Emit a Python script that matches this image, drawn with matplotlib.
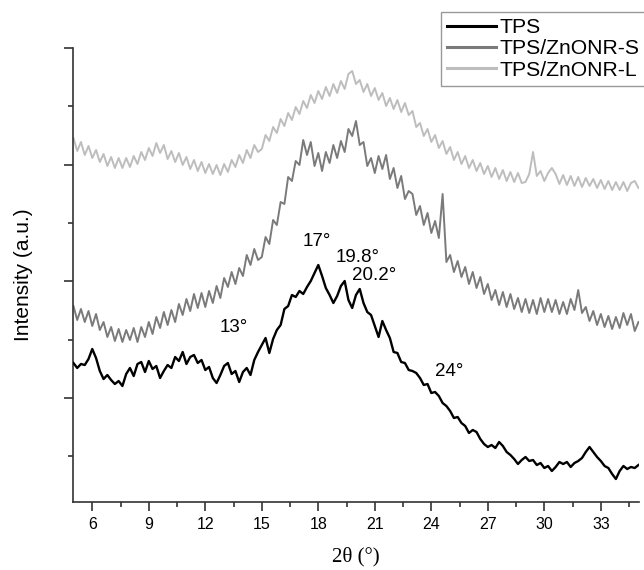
import numpy as np
import matplotlib
matplotlib.use("Agg")
import matplotlib.pyplot as plt

# 2theta scan from 5 to 35 degrees, 0.2 degree step
two_theta_start, two_theta_stop = 5.0, 35.0

tps = [139, 134, 138, 137, 143, 153, 144, 131, 123, 127,
       122, 118, 121, 116, 128, 134, 126, 138, 140, 130,
       141, 133, 136, 124, 131, 137, 134, 145, 141, 150,
       138, 145, 147, 139, 142, 132, 135, 124, 119, 127,
       136, 139, 128, 131, 120, 130, 134, 127, 142, 150,
       157, 164, 149, 163, 172, 177, 193, 196, 207, 205,
       211, 208, 215, 221, 229, 237, 226, 214, 207, 199,
       206, 216, 221, 202, 194, 207, 213, 199, 190, 187,
       176, 165, 181, 172, 164, 150, 149, 140, 139, 132,
       131, 129, 124, 117, 118, 109, 110, 106, 99, 96,
       91, 84, 85, 79, 76, 69, 72, 70, 63, 58,
       55, 57, 54, 60, 56, 50, 47, 43, 38, 42,
       45, 41, 42, 37, 39, 34, 36, 31, 35, 40,
       38, 40, 35, 39, 41, 44, 50, 55, 50, 45,
       41, 36, 34, 28, 23, 31, 36, 33, 35, 34, 37]

tps_s = [196, 182, 193, 180, 191, 176, 188, 172, 180, 165,
         175, 161, 173, 160, 172, 162, 174, 160, 175, 165,
         180, 168, 185, 174, 190, 177, 192, 180, 198, 187,
         203, 191, 208, 194, 209, 195, 211, 199, 216, 204,
         224, 215, 230, 218, 234, 226, 247, 237, 253, 242,
         245, 265, 258, 282, 277, 300, 298, 325, 321, 341,
         337, 362, 347, 360, 336, 349, 331, 350, 339, 357,
         344, 361, 350, 373, 366, 381, 357, 360, 336, 344,
         329, 346, 333, 347, 323, 334, 314, 326, 303, 311,
         308, 287, 296, 277, 289, 269, 281, 264, 308, 240,
         247, 230, 241, 225, 235, 218, 230, 214, 225, 208,
         218, 202, 212, 197, 210, 195, 208, 193, 204, 190,
         203, 189, 202, 188, 204, 190, 203, 190, 202, 188,
         200, 188, 203, 192, 212, 189, 195, 181, 191, 177,
         188, 175, 186, 173, 185, 174, 189, 177, 188, 171, 180]

tps_l = [364, 351, 360, 347, 356, 344, 352, 340, 348, 336,
         345, 334, 344, 334, 344, 335, 346, 338, 350, 342,
         354, 346, 359, 349, 357, 343, 351, 340, 349, 337,
         345, 333, 342, 331, 340, 329, 338, 328, 337, 327,
         338, 330, 342, 335, 347, 339, 352, 344, 357, 350,
         353, 367, 361, 375, 369, 383, 376, 389, 382, 395,
         388, 401, 394, 407, 399, 411, 403, 415, 406, 418,
         409, 421, 413, 428, 431, 418, 422, 410, 418, 406,
         414, 402, 409, 396, 404, 393, 402, 390, 399, 387,
         391, 375, 379, 366, 373, 360, 367, 354, 361, 348,
         355, 342, 350, 338, 346, 334, 342, 331, 339, 328,
         336, 325, 334, 323, 332, 321, 330, 320, 329, 319,
         320, 328, 350, 326, 331, 321, 329, 334, 328, 318,
         327, 317, 326, 316, 325, 315, 324, 316, 323, 314,
         322, 313, 321, 312, 320, 312, 320, 311, 319, 321, 314]

series_names = ["TPS", "TPS/ZnONR-S", "TPS/ZnONR-L"]
x_ticks = [6, 9, 12, 15, 18, 21, 24, 27, 30, 33]
peak_labels = ["17°", "19.8°", "20.2°", "13°", "24°"]
peak_x = [17.92, 20.1, 20.94, 13.52, 24.95]
peak_y = [260, 245, 226, 175, 130]

x = np.linspace(two_theta_start, two_theta_stop, len(tps))

plt.rcParams['font.family'] = ['Liberation Sans', 'DejaVu Sans']

fig = plt.figure(figsize=(6.44, 5.70), dpi=100)
ax = fig.add_axes([72.5 / 644, 68 / 570, 566 / 644, 454 / 570])

ax.plot(x, tps, color='#000000', lw=1.7, label=series_names[0], zorder=3)
ax.plot(x, tps_s, color='#7a7a7a', lw=1.4, label=series_names[1], zorder=2)
ax.plot(x, tps_l, color='#bdbdbd', lw=1.4, label=series_names[2], zorder=1)

ax.set_xlim(4.95, 35.0)
ax.set_ylim(0, 454)
ax.set_xticks(x_ticks)
ax.set_xticks(np.arange(7.5, 35, 3), minor=True)
ax.set_yticks([104, 220.7, 337.3, 454])
ax.set_yticks([46, 162.3, 279, 395.7], minor=True)
ax.set_yticklabels([])

for s in ['top', 'right']:
    ax.spines[s].set_visible(False)
for s in ['left', 'bottom']:
    ax.spines[s].set_linewidth(1.2)
    ax.spines[s].set_color('#333333')

ax.tick_params(which='major', direction='out', length=6.5, width=1.2, color='#333333', labelsize=11.5, pad=4)
ax.tick_params(which='minor', direction='out', length=3.5, width=1.2, color='#333333')

ax.set_ylabel("Intensity (a.u.)", fontsize=15)
ax.yaxis.set_label_coords(-0.07, 0.5)
ax.set_xlabel("2θ (°)", fontsize=15, family=['Liberation Serif', 'DejaVu Serif'])
ax.xaxis.set_label_coords(0.5, -0.098)

for lab, px, py in zip(peak_labels, peak_x, peak_y):
    ax.text(px, py, lab, fontsize=13.5, ha='center', va='center')

leg = ax.legend(loc='upper left', bbox_to_anchor=(441 / 644, 1 - 12 / 570),
                bbox_transform=fig.transFigure, fontsize=15.2, frameon=True,
                fancybox=False, edgecolor='#808080', handlelength=2.3,
                handletextpad=0.15, labelspacing=0.1, borderpad=0.3,
                borderaxespad=0)
leg.get_frame().set_linewidth(1.0)
for line in leg.get_lines():
    line.set_linewidth(2.2)

fig.savefig("out.png", dpi=100)
